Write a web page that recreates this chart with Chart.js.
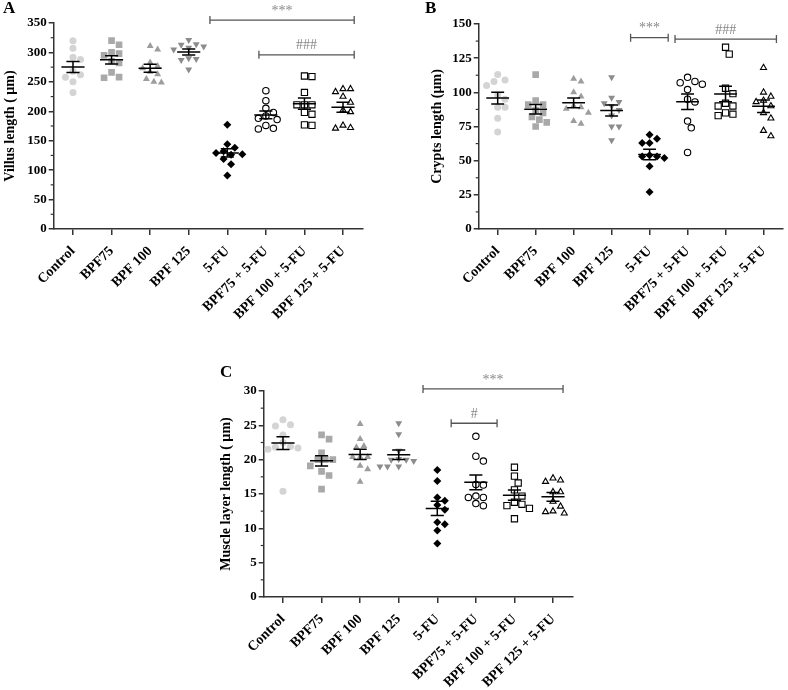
<!DOCTYPE html>
<html>
<head>
<meta charset="utf-8">
<script src="https://cdn.jsdelivr.net/npm/chart.js@4.4.0/dist/chart.umd.min.js"></script>
<style>
    body { margin: 0; background: #fff; width: 788px; height: 690px; position: relative; overflow: hidden; }
    canvas { position: absolute; }
    .panel-label { position: absolute; font: bold 17px 'Liberation Serif', serif; color: #000; }
</style>
</head>
<body>
<canvas id="chartA" width="394" height="330" style="left:0;top:0"></canvas>
<canvas id="chartB" width="394" height="330" style="left:394px;top:0"></canvas>
<canvas id="chartC" width="400" height="360" style="left:200px;top:330px"></canvas>
<div class="panel-label" style="left:3px;top:-2px">A</div>
<div class="panel-label" style="left:425px;top:-2px">B</div>
<div class="panel-label" style="left:220px;top:362px">C</div>
<script>
// Groups (x categories)
const groups = ['Control', 'BPF75', 'BPF 100', 'BPF 125', '5-FU', 'BPF75 + 5-FU', 'BPF 100 + 5-FU', 'BPF 125 + 5-FU'];

// Villus length (µm), one list per group
const villusLength = [
    [320, 307, 292, 288, 268, 262, 258, 250, 232],
    [320, 313, 300, 298, 295, 285, 282, 266, 257, 258],
    [311, 305, 283, 277, 273, 267, 263, 255, 250, 249],
    [321, 314, 313, 310, 308, 305, 290, 289, 287, 271],
    [177, 144, 138, 132, 129, 127, 126, 119, 110, 91],
    [235, 218, 205, 198, 192, 188, 186, 176, 171, 170],
    [259, 260, 232, 211, 211, 211, 198, 195, 176, 177],
    [238, 233, 238, 225, 215, 202, 199, 176, 171, 172]
];

// Crypts length (µm)
const cryptsLength = [
    [113, 109, 108, 105, 98, 95, 89, 89, 81, 71],
    [113, 94, 91, 91, 85, 87, 82, 80, 75, 78],
    [108, 110, 100, 97, 88, 90, 89, 85, 77, 79],
    [111, 92, 96, 93, 90, 87, 83, 75, 75, 65],
    [69, 63, 63, 66, 54, 53, 53, 52, 46, 27],
    [111, 106, 107, 108, 102, 95, 93, 79, 74, 56],
    [133, 128, 99, 103, 92, 90, 90, 85, 83, 84],
    [118, 100, 97, 94, 93, 90, 85, 81, 72, 68]
];

// Muscle layer length (µm)
const muscleLength = [
    [25.8, 25.1, 24.9, 23.6, 22.5, 21.8, 21.7, 21.9, 21.5, 15.4],
    [23.6, 23.0, 21.0, 20.0, 20.0, 20.0, 19.1, 18.3, 17.7, 15.7],
    [25.2, 23.0, 22.0, 21.8, 20.4, 20.4, 20.4, 19.1, 18.6, 16.8],
    [25.3, 23.7, 21.3, 20.0, 20.0, 20.1, 19.8, 19.0, 19.0, 19.0],
    [18.5, 16.9, 14.5, 14.0, 13.4, 12.7, 10.6, 10.9, 9.7, 7.8],
    [23.4, 20.5, 19.8, 16.3, 16.4, 14.5, 14.5, 14.7, 13.3, 13.6],
    [18.9, 17.6, 16.6, 15.6, 14.7, 13.3, 13.5, 13.8, 12.9, 11.4],
    [17.0, 16.8, 17.3, 15.3, 15.3, 13.9, 12.5, 12.2, 12.4, 13.2]
];

// Significance brackets: [from group, to group, y value, label]
const villusBrackets = [[3.55, 7.29, 355, '***'], [4.82, 7.29, 296, '###']];
const cryptsBrackets = [[3.5, 4.49, 140, '***'], [4.67, 7.34, 139, '###']];
const muscleBrackets = [[3.63, 7.26, 30.3, '***'], [4.36, 5.55, 25.3, '#']];

const FONT = "'Liberation Serif', 'Times New Roman', serif";
Chart.defaults.font.family = FONT;

const markerStyles = [
    { style: 'circle', r: 3.5, bg: '#d4d4d4' },
    { style: 'rect', r: 4.7, bg: '#a9a9a9' },
    { style: 'triangle', r: 4, bg: '#9d9d9d' },
    { style: 'triangle', r: 4, bg: '#8c8c8c', rot: 180 },
    { style: 'rectRot', r: 4, bg: '#000' },
    { style: 'circle', r: 3.2, bg: '#fff', border: '#000', bw: 1.1 },
    { style: 'rect', r: 4.4, bg: '#fff', border: '#000', bw: 1.1 },
    { style: 'triangle', r: 3.5, bg: '#fff', border: '#000', bw: 1.1 }
];

const CAT_PX = 38.57;

// Simple beeswarm: horizontal offsets (in category units) so markers don't overlap
function swarm(vals, pxPerUnit, diam = 7.5) {
    const order = vals.map((v, i) => i).sort((a, b) => vals[b] - vals[a]);
    const placed = [];
    const offs = new Array(vals.length).fill(0);
    const cands = [0];
    for (let s = 1; s < 12; s++) cands.push(s * diam / 2, -s * diam / 2);
    order.forEach(i => {
        const y = vals[i] * pxPerUnit;
        let x = 0;
        for (const c of cands) {
            if (placed.every(p => Math.hypot(p.x - c, p.y - y) >= diam)) { x = c; break; }
        }
        placed.push({ x, y });
        offs[i] = x / CAT_PX;
    });
    return offs;
}

function stats(vals) {
    const n = vals.length;
    const mean = vals.reduce((a, b) => a + b, 0) / n;
    const sd = Math.sqrt(vals.reduce((a, b) => a + (b - mean) ** 2, 0) / (n - 1));
    return { mean, sem: sd / Math.sqrt(n) };
}

function makePanel(id, values, brackets, cfg) {
    const pxPerUnit = cfg.plotH / cfg.yMax;

    const datasets = values.map((vals, g) => {
        const offs = swarm(vals, pxPerUnit);
        const m = markerStyles[g];
        return {
            label: groups[g],
            data: vals.map((v, i) => ({ x: g + offs[i], y: v })),
            pointStyle: m.style,
            pointRadius: m.r,
            pointRotation: m.rot || 0,
            pointBackgroundColor: m.bg,
            pointBorderColor: m.border || m.bg,
            pointBorderWidth: m.bw || 0,
            showLine: false
        };
    });

    const overlay = {
        id: 'overlay' + id,
        afterDatasetsDraw(chart) {
            const { ctx, chartArea, scales: { x, y } } = chart;
            ctx.save();

            // mean ± SEM
            ctx.strokeStyle = '#000';
            ctx.lineWidth = 1.5;
            values.forEach((vals, g) => {
                const { mean, sem } = stats(vals);
                const cx = x.getPixelForValue(g);
                const half = x.getPixelForValue(g + 0.3) - cx;
                const cap = x.getPixelForValue(g + 0.17) - cx;
                const ym = y.getPixelForValue(mean);
                const yt = y.getPixelForValue(mean + sem);
                const yb = y.getPixelForValue(mean - sem);
                ctx.beginPath();
                ctx.moveTo(cx - half, ym); ctx.lineTo(cx + half, ym);
                ctx.moveTo(cx, yt); ctx.lineTo(cx, yb);
                ctx.moveTo(cx - cap, yt); ctx.lineTo(cx + cap, yt);
                ctx.moveTo(cx - cap, yb); ctx.lineTo(cx + cap, yb);
                ctx.stroke();
            });

            // minor y ticks
            ctx.strokeStyle = '#333';
            ctx.lineWidth = 1.2;
            for (let v = cfg.step / 2; v < cfg.yMax; v += cfg.step) {
                const py = y.getPixelForValue(v);
                ctx.beginPath();
                ctx.moveTo(chartArea.left - 3, py); ctx.lineTo(chartArea.left, py);
                ctx.stroke();
            }

            // significance brackets
            brackets.forEach(([from, to, val, text]) => {
                const x1 = x.getPixelForValue(from);
                const x2 = x.getPixelForValue(to);
                const py = y.getPixelForValue(val);
                ctx.strokeStyle = '#555';
                ctx.lineWidth = 1.3;
                ctx.beginPath();
                ctx.moveTo(x1, py); ctx.lineTo(x2, py);
                ctx.moveTo(x1, py - 4); ctx.lineTo(x1, py + 4);
                ctx.moveTo(x2, py - 4); ctx.lineTo(x2, py + 4);
                ctx.stroke();
                ctx.fillStyle = '#888';
                ctx.font = '14px ' + FONT;
                ctx.textAlign = 'center';
                ctx.textBaseline = 'bottom';
                ctx.fillText(text, (x1 + x2) / 2, py - 2);
            });
            ctx.restore();
        }
    };

    return new Chart(document.getElementById(id), {
        type: 'scatter',
        data: { datasets },
        options: {
            responsive: false,
            animation: false,
            layout: { padding: { left: cfg.padL, right: cfg.padR, top: cfg.padT, bottom: 0 } },
            plugins: { legend: { display: false }, tooltip: { enabled: false } },
            scales: {
                x: {
                    type: 'linear',
                    min: -0.5,
                    max: 7.5,
                    afterBuildTicks: s => { s.ticks = groups.map((_, i) => ({ value: i })); },
                    afterFit: s => { s.height = cfg.xH; },
                    ticks: {
                        callback: v => groups[v],
                        autoSkip: false,
                        minRotation: 45,
                        maxRotation: 45,
                        padding: 8,
                        color: '#000',
                        font: { size: 14, weight: 'bold' }
                    },
                    grid: { drawOnChartArea: false, tickLength: 6, color: '#333', lineWidth: 1.5 },
                    border: { color: '#333', width: 1.5 }
                },
                y: {
                    min: 0,
                    max: cfg.yMax,
                    afterFit: s => { s.width = cfg.yW; },
                    ticks: { stepSize: cfg.step, padding: 2, color: '#000', font: { size: 13, weight: 'bold' } },
                    grid: { drawOnChartArea: false, tickLength: 5, color: '#333', lineWidth: 1.5 },
                    border: { color: '#333', width: 1.5 },
                    title: { display: true, text: cfg.title, color: '#000', font: { size: 14, weight: 'bold' }, padding: { top: 2, bottom: 2 } }
                }
            }
        },
        plugins: [overlay]
    });
}

makePanel('chartA', villusLength, villusBrackets, {
    title: 'Villus length ( µm)', yMax: 350, step: 50, plotH: 206,
    padL: 0, yW: 53.7, padR: 31.7, padT: 23, xH: 101
});
makePanel('chartB', cryptsLength, cryptsBrackets, {
    title: 'Crypts length (µm)', yMax: 150, step: 25, plotH: 205,
    padL: 33, yW: 51.7, padR: 0.7, padT: 24, xH: 101
});
makePanel('chartC', muscleLength, muscleBrackets, {
    title: 'Muscle layer length ( µm)', yMax: 30, step: 5, plotH: 206,
    padL: 16, yW: 47.7, padR: 27.7, padT: 61, xH: 93
});
</script>
</body>
</html>
